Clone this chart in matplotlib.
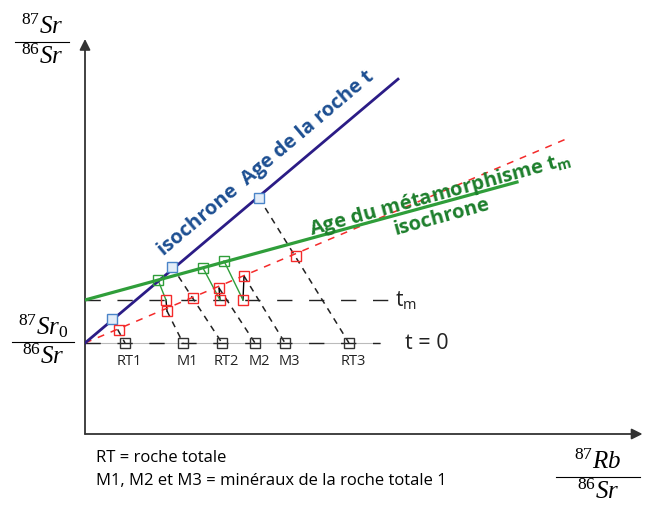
import numpy as np
import matplotlib
matplotlib.use("Agg")
import matplotlib.pyplot as plt

plt.rcParams["font.family"] = ["Open Sans", "DejaVu Sans"]
plt.rcParams["mathtext.fontset"] = "custom"
plt.rcParams["mathtext.rm"] = "Liberation Serif"
plt.rcParams["mathtext.it"] = "Liberation Serif:italic"
plt.rcParams["lines.scale_dashes"] = False

# rapports initiaux 87Sr/86Sr
sr0 = 1.82      # à la formation (t = 0)
sr_tm = 2.68    # rééquilibrage au métamorphisme (tm)

rt_labels = ["RT1", "RT2", "RT3"]
m_labels = ["M1", "M2", "M3"]

# positions à t = 0 (sur la droite Sr0)
rt_x0 = [0.80, 2.74, 5.28]
m_x0 = [1.96, 3.40, 4.00]

# roches totales aujourd'hui
rt_x_now = [0.54, 1.74, 3.48]
rt_y_now = [2.30, 3.35, 4.72]

# roches totales au moment du métamorphisme
rt_x_tm = [0.68, 2.16, 4.22]
rt_y_tm = [2.08, 2.72, 3.56]

# minéraux juste avant le métamorphisme
m_x_pre = [1.64, 2.68, 3.18]
m_y_pre = [2.46, 2.92, 3.16]

# minéraux après rééquilibrage (sur la droite tm)
m_x_post = [1.62, 2.70, 3.16]

# minéraux aujourd'hui
m_x_now = [1.46, 2.36, 2.78]
m_y_now = [3.08, 3.32, 3.46]

# isochrones : pente et extension en x
rock_slope, rock_xmax = 0.843, 6.26
meta_slope, meta_xmax = 0.273, 8.64
tm_slope, tm_xmax = 0.424, 9.7

BLUE_LINE = "#2b1c86"
BLUE_TEXT = "#1d4f92"
GREEN_LINE = "#2f9e3a"
GREEN_TEXT = "#1d7f2c"
RED = "#f42a2a"
DARK = "#222222"

fig = plt.figure(figsize=(6.45, 5.1), dpi=100)
ax = fig.add_axes([85 / 645, 75 / 510, 555 / 645, 395 / 510])
ax.set_xlim(0, 11.1)
ax.set_ylim(0, 7.9)
ax.axis("off")

# axes fléchés
arrow = dict(arrowstyle="-|>", color="#333333", lw=1.3, mutation_scale=16,
             shrinkA=0, shrinkB=0)
ax.annotate("", xy=(0, 7.9), xytext=(0, 0), arrowprops=arrow, annotation_clip=False)
ax.annotate("", xy=(11.15, 0), xytext=(0, 0), arrowprops=arrow, annotation_clip=False)

# droites horizontales t = 0 et tm
ax.plot([0, 5.9], [sr0, sr0], color="#bbbbbb", lw=0.8, zorder=1)
ax.plot([0, 5.9], [sr0, sr0], color=DARK, lw=1.0, dashes=(11, 12), zorder=1)
ax.plot([0, 6.06], [sr_tm, sr_tm], color=DARK, lw=1.0, dashes=(11, 12), zorder=1)
ax.text(6.2, sr_tm, r"t$\mathregular{_m}$", fontsize=15, va="center", ha="left", color=DARK)
ax.text(6.4, sr0, "t = 0", fontsize=15.5, va="center", ha="left", color=DARK)

# trajets (pointillés noirs) vers t = 0
for x1, y1, x0 in zip(rt_x_now, rt_y_now, rt_x0):
    ax.plot([x1, x0], [y1, sr0], color=DARK, lw=1.1, dashes=(4.5, 4), zorder=2)
for x1, y1, x0 in zip(m_x_pre, m_y_pre, m_x0):
    ax.plot([x1, x0], [y1, sr0], color=DARK, lw=1.1, dashes=(4.5, 4), zorder=2)

# rééquilibrage des minéraux à tm
for x1, y1, x2 in zip(m_x_pre, m_y_pre, m_x_post):
    ax.plot([x1, x2], [y1, sr_tm], color="black", lw=1.0, zorder=2)
for x2, x3, y3 in zip(m_x_post, m_x_now, m_y_now):
    ax.plot([x2, x3], [sr_tm, y3], color=GREEN_LINE, lw=1.0, zorder=2)

# isochrones
xr = np.array([0, tm_xmax])
ax.plot(xr, sr0 + tm_slope * xr, color=RED, lw=1.1, dashes=(5, 5), zorder=3)
xr = np.array([0, rock_xmax])
ax.plot(xr, sr0 + rock_slope * xr, color=BLUE_LINE, lw=2.0, zorder=3)
xr = np.array([0, meta_xmax])
ax.plot(xr, sr_tm + meta_slope * xr, color=GREEN_LINE, lw=2.3, zorder=3)

# points
sq = dict(marker="s", ms=6.5, ls="none", mew=1.0, zorder=5)
ax.plot(rt_x0 + m_x0, [sr0] * 6, mec="#333333", mfc="none", **sq)
ax.plot(rt_x_now, rt_y_now, mec="#4a84c8", mfc="#e4edf8", **sq)
ax.plot(rt_x_tm + m_x_pre + m_x_post, rt_y_tm + m_y_pre + [sr_tm] * 3,
        mec=RED, mfc="none", **sq)
ax.plot(m_x_now, m_y_now, mec=GREEN_LINE, mfc="none", **sq)

for x, lab in zip(rt_x0 + m_x0, rt_labels + m_labels):
    ax.annotate(lab, (x, sr0), xytext=(3, -7), textcoords="offset points",
                ha="center", va="top", fontsize=10.5, color=DARK)

# libellés des isochrones
ang_rock = np.degrees(np.arctan(rock_slope))
ang_meta = np.degrees(np.arctan(meta_slope))
ax.text(3.62, 5.44, "isochrone  Age de la roche t", rotation=ang_rock,
        rotation_mode="anchor", ha="center", va="center", fontsize=14.5,
        fontweight="bold", color=BLUE_TEXT)
ax.text(7.1, 4.8, r"Age du métamorphisme t$\mathregular{_m}$", rotation=ang_meta,
        rotation_mode="anchor", ha="center", va="center", fontsize=14.5,
        fontweight="bold", color=GREEN_TEXT)
ax.text(7.14, 4.36, "isochrone", rotation=ang_meta, rotation_mode="anchor",
        ha="center", va="center", fontsize=14.5, fontweight="bold", color=GREEN_TEXT)

# titres des axes (fractions)
W, H = 645, 510


def fraction(top, bottom, xc, y_line, half):
    fig.text(xc / W, 1 - (y_line - 3) / H, top, ha="center", va="bottom", fontsize=18)
    fig.text(xc / W, 1 - (y_line + 2) / H, bottom, ha="center", va="top", fontsize=18)
    fig.add_artist(plt.Line2D([(xc - half) / W, (xc + half) / W],
                              [1 - y_line / H, 1 - y_line / H], color="black", lw=0.8))


fraction(r"$^{87}Sr$", r"$^{86}Sr$", 42, 43, 27)
fraction(r"$^{87}Sr_0$", r"$^{86}Sr$", 43, 343, 31)
fraction(r"$^{87}Rb$", r"$^{86}Sr$", 598, 478, 42)

fig.text(96 / W, 1 - 458 / H, "RT = roche totale", fontsize=12, va="center")
fig.text(96 / W, 1 - 481 / H, "M1, M2 et M3 = minéraux de la roche totale 1",
         fontsize=12, va="center")

fig.savefig("out.png", dpi=100)
